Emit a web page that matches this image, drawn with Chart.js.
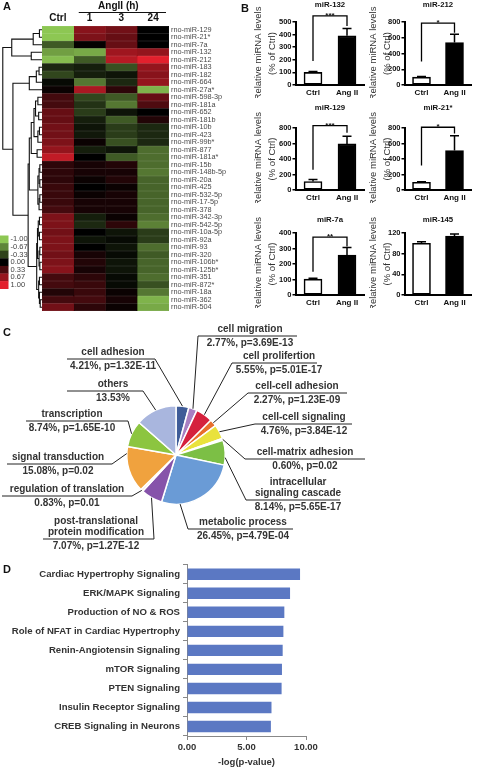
<!DOCTYPE html>
<html>
<head>
<meta charset="utf-8">
<script src="https://cdn.jsdelivr.net/npm/chart.js@4.4.0/dist/chart.umd.min.js"></script>
<style>
  body { margin: 0; background: #fff; }
  #fig { position: relative; width: 477px; height: 768px; overflow: hidden; background: #fff; }
  #fig canvas { position: absolute; }
  .panel { position: absolute; font: bold 11px "Liberation Sans", Arial, sans-serif; color: #111; }
</style>
</head>
<body>
<div id="fig">
  <canvas id="heat" width="240" height="318" style="left:0;top:0"></canvas>
  <canvas id="pie" width="477" height="238" style="left:0;top:318px"></canvas>
  <canvas id="paths" width="477" height="212" style="left:0;top:556px"></canvas>
  <div class="panel" style="left:3px;top:0px">A</div>
  <div class="panel" style="left:241px;top:2px">B</div>
  <div class="panel" style="left:3px;top:326px">C</div>
  <div class="panel" style="left:3px;top:563px">D</div>
</div>
<script>
const FONT = '"Liberation Sans", Arial, sans-serif';
Chart.defaults.font.family = FONT;

// ---- A: heatmap ----
const mirnas = ['rno-miR-129', 'rno-miR-21*', 'rno-miR-7a', 'rno-miR-132', 'rno-miR-212', 'rno-miR-183',
  'rno-miR-182', 'rno-miR-664', 'rno-miR-27a*', 'rno-miR-598-3p', 'rno-miR-181a', 'rno-miR-652',
  'rno-miR-181b', 'rno-miR-10b', 'rno-miR-423', 'rno-miR-99b*', 'rno-miR-877', 'rno-miR-181a*',
  'rno-miR-15b', 'rno-miR-148b-5p', 'rno-miR-20a', 'rno-miR-425', 'rno-miR-532-5p', 'rno-miR-17-5p',
  'rno-miR-378', 'rno-miR-342-3p', 'rno-miR-542-5p', 'rno-miR-10a-5p', 'rno-miR-92a', 'rno-miR-93',
  'rno-miR-320', 'rno-miR-106b*', 'rno-miR-125b*', 'rno-miR-351', 'rno-miR-872*', 'rno-miR-18a',
  'rno-miR-362', 'rno-miR-504'];
const heatColumns = ['Ctrl', '1', '3', '24'];
const ctrlVals = [-1, -1, -0.45, -0.8, -0.95, -0.2, -0.35, -0.05, 0.05, 0.3, 0.3, 0.45, 0.45, 0.5, 0.5, 0.55,
  0.65, 0.85, 0.2, 0.2, 0.2, 0.25, 0.25, 0.25, 0.3, 0.55, 0.55, 0.5, 0.55, 0.55, 0.5, 0.55, 0.6, 0.3, 0.3,
  0.15, 0.3, 0.5];
const h1Vals = [0.6, 0.55, 0.02, -0.85, -0.45, -0.15, -0.15, -0.6, 0.75, -0.35, -0.25, -0.3, -0.15, -0.1,
  -0.12, 0.05, -0.15, 0, 0.1, 0.1, 0.05, 0, 0.05, 0.1, 0.1, -0.15, -0.2, 0, -0.1, 0, 0.1, 0.15, 0.1, 0.2,
  0.25, 0.25, 0.3, 0.2];
const h3Vals = [0.5, 0.45, 0.45, 0.7, 0.8, -0.4, -0.1, -0.2, 0.2, -0.45, -0.6, -0.1, -0.45, -0.3, -0.3, -0.4,
  -0.1, -0.45, 0.15, 0.1, 0.15, 0.05, 0.1, 0.1, 0.1, 0.05, 0.2, -0.1, -0.05, -0.1, -0.05, -0.1, -0.1, -0.05,
  -0.05, 0.05, 0.1, 0.05];
const h24Vals = [0, 0, 0, 0.65, 1, 0.65, 0.6, 0.65, -0.9, 0.45, 0.35, 0, 0.15, -0.2, -0.2, -0.2, -0.55, -0.55,
  -0.55, -0.6, -0.5, -0.5, -0.5, -0.5, -0.5, -0.55, -0.65, -0.3, -0.3, -0.55, -0.45, -0.5, -0.5, -0.55, -0.4,
  -0.6, -0.9, -0.85];
const scaleStops = [-1, -0.67, -0.33, 0, 0.33, 0.67, 1];

// row clustering: [left, right, merge height], leaves are row indices
const topCluster = [[[0, 1, 0.04], 2, 0.2], [3, 4, 0.25], 0.75];
const midCluster = [[[5, 6, 0.05], 7, 0.12], 8, 0.3];
const lowA = [[[[9, 10, 0.08], [11, 12, 0.06], 0.14], [[13, 14, 0.04], 15, 0.08], 0.18], [16, 17, 0.1], 0.25];
const lowB = [[[18, 19, 0.03], [20, 21, 0.03], 0.05], [[22, 23, 0.03], 24, 0.05], 0.08];
const lowC = [[[25, 26, 0.04], [27, 28, 0.04], 0.07], [[29, 30, 0.03], [31, 32, 0.03], 0.05], 0.09];
const lowD = [[33, 34, 0.04], [35, [36, 37, 0.02], 0.04], 0.06];
const dendrogram = [topCluster, [midCluster, [[lowA, lowB, 0.3], [lowC, lowD, 0.11], 0.33], 0.72], 0.98];

// ---- B: qPCR bars ----
const bTitles = ['miR-132', 'miR-212', 'miR-129', 'miR-21*', 'miR-7a', 'miR-145'];
const groups = ['Ctrl', 'Ang II'];
const ctrlMeans = [100, 100, 110, 100, 102, 100];
const ctrlErrs = [8, 8, 25, 6, 6, 3];
const angMeans = [390, 540, 595, 510, 258, 114];
const angErrs = [58, 105, 100, 190, 48, 4];
const yMaxes = [500, 800, 800, 800, 400, 120];
const ySteps = [100, 200, 200, 200, 100, 40];
const sigLabels = ['***', '*', '***', '*', '**', ''];
// bracket: [ctrl leg bottom, top, ang leg bottom] in axis units
const sigBrackets = [[190, 548, 468], [300, 785, 665], [260, 830, 740], [315, 810, 730], [150, 374, 313], null];

// ---- C: GO pie ----
const pieNames = ['cell adhesion', 'cell migration', 'cell prolifertion', 'cell-cell adhesion',
  'cell-cell signaling', 'cell-matrix adhesion', 'intracellular\nsignaling cascade', 'metabolic process',
  'post-translational\nprotein modification', 'regulation of translation', 'signal transduction',
  'transcription', 'others'];
const pieShares = [4.21, 2.77, 5.55, 2.27, 4.76, 0.60, 8.14, 26.45, 7.07, 0.83, 15.08, 8.74, 13.53];
const piePvals = ['1.32E-11', '3.69E-13', '5.01E-17', '1.23E-09', '3.84E-12', '0.02', '5.65E-17', '4.79E-04',
  '1.27E-12', '0.01', '0.02', '1.65E-10', ''];

// ---- D: pathways ----
const pathways = ['Cardiac Hypertrophy Signaling', 'ERK/MAPK Signaling', 'Production of NO & ROS',
  'Role of NFAT in Cardiac Hypertrophy', 'Renin-Angiotensin Signaling', 'mTOR Signaling', 'PTEN Signaling',
  'Insulin Receptor Signaling', 'CREB Signaling in Neurons'];
const pathwayScores = [9.5, 8.66, 8.18, 8.1, 8.04, 7.98, 7.95, 7.1, 7.05];

// colours and label placement
const pieColors = ['#3f5c98', '#a87fc2', '#d5213d', '#e86e2c', '#e9e23c', '#f6f6f0', '#7cbf45', '#6a9bd6',
  '#8653aa', '#f7efe6', '#f0a23e', '#8cc540', '#a9b6de'];
const pieLayout = [
  { cx: 113, ruleY: 359, x0: 67, x1: 155, join: 'right' },
  { cx: 250, ruleY: 336, x0: 198, x1: 297, join: 'left' },
  { cx: 279, ruleY: 363, x0: 232, x1: 317, join: 'left' },
  { cx: 297, ruleY: 393, x0: 248, x1: 347, join: 'left' },
  { cx: 304, ruleY: 424, x0: 255, x1: 352, join: 'left' },
  { cx: 305, ruleY: 459, x0: 245, x1: 365, join: 'left' },
  { cx: 298, ruleY: 500, x0: 246, x1: 340, join: 'left', at: 0.7 },
  { cx: 243, ruleY: 529, x0: 188, x1: 293, join: 'left', at: 0.77 },
  { cx: 96, ruleY: 539, x0: 43, x1: 154, join: 'right' },
  { cx: 67, ruleY: 496, x0: 2, x1: 132, join: 'right' },
  { cx: 58, ruleY: 464, x0: 7, x1: 112, join: 'right', at: 0.85 },
  { cx: 72, ruleY: 421, x0: 26, x1: 128, join: 'right' },
  { cx: 113, ruleY: 391, x0: 67, x1: 143, join: 'right' }
];

function heatColor(v) {
  const t = Math.min(1, Math.abs(v));
  const c = v < 0 ? [141, 199, 83] : [227, 32, 45];
  return `rgb(${Math.round(c[0] * t)},${Math.round(c[1] * t)},${Math.round(c[2] * t)})`;
}

const heatExtras = {
  id: 'heatExtras',
  afterDraw(chart) {
    const { ctx, chartArea: area, scales: { x, y } } = chart;
    ctx.save();
    // dendrogram
    ctx.strokeStyle = '#111';
    ctx.lineWidth = 1.1;
    const xAt = h => area.left - 1 - h * (area.left - 3);
    const walk = node => {
      if (typeof node === 'number') return { x: area.left, y: y.getPixelForValue(node) };
      const a = walk(node[0]), b = walk(node[1]), px = xAt(node[2]);
      ctx.beginPath();
      ctx.moveTo(a.x, a.y); ctx.lineTo(px, a.y); ctx.lineTo(px, b.y); ctx.lineTo(b.x, b.y);
      ctx.stroke();
      return { x: px, y: (a.y + b.y) / 2 };
    };
    walk(dendrogram);

    // AngII header
    const l = x.getPixelForValue(1) + 5, r = x.getPixelForValue(4) - 3;
    ctx.fillStyle = '#111';
    ctx.font = 'bold 10px ' + FONT;
    ctx.textAlign = 'center';
    ctx.textBaseline = 'middle';
    ctx.fillText('AngII (h)', (l + r) / 2 - 4, 6);
    ctx.lineWidth = 1.2;
    ctx.beginPath(); ctx.moveTo(l, 12.5); ctx.lineTo(r, 12.5); ctx.stroke();

    // colour key
    const sw = 7.6, y0 = 235.5;
    ctx.font = '7.5px ' + FONT;
    ctx.textAlign = 'left';
    scaleStops.forEach((v, k) => {
      ctx.fillStyle = heatColor(v);
      ctx.fillRect(0, y0 + k * sw, 8.5, sw + 0.3);
      ctx.fillStyle = '#444';
      ctx.fillText(v.toFixed(2), 10.5, y0 + k * sw + sw / 2);
    });
    ctx.restore();
  }
};

const heatData = [ctrlVals, h1Vals, h3Vals, h24Vals];
new Chart(document.getElementById('heat'), {
  type: 'bar',
  data: {
    labels: mirnas,
    datasets: heatData.map((vals, c) => ({
      label: heatColumns[c],
      data: vals.map(() => [c, c + 1]),
      backgroundColor: vals.map(heatColor),
      borderColor: vals.map(heatColor),
      borderWidth: 0.5,
      borderSkipped: false,
      barPercentage: 1,
      categoryPercentage: 1,
      grouped: false
    }))
  },
  options: {
    indexAxis: 'y',
    responsive: false,
    animation: false,
    layout: { padding: { left: 42, top: 0, right: 0, bottom: 7 } },
    plugins: { legend: { display: false }, tooltip: { enabled: false } },
    scales: {
      x: {
        type: 'linear', position: 'top', min: 0, max: 4,
        grid: { display: false, drawTicks: false },
        border: { display: false },
        afterBuildTicks: s => { s.ticks = heatColumns.map((_, i) => ({ value: i + 0.5 })); },
        ticks: { callback: (v, i) => heatColumns[i], font: { size: 10, weight: 'bold' }, color: '#111', padding: 2 },
        afterFit: s => { s.height = 26; }
      },
      y: {
        position: 'right',
        grid: { display: false, drawTicks: false },
        border: { display: false },
        ticks: { font: { size: 7.3 }, color: '#4a4a4a', padding: 2, autoSkip: false },
        afterFit: s => { s.width = 71; }
      }
    }
  },
  plugins: [heatExtras]
});

// ---- B charts ----
const bCols = [{ left: 251, width: 116, axisW: 45, padR: 3 }, { left: 366, width: 111, axisW: 39, padR: 6 }];
const bRows = [{ top: 0, height: 98, padT: 22, titleY: 5 }, { top: 98, height: 105, padT: 30, titleY: 10 },
  { top: 203, height: 105, padT: 30, titleY: 17 }];

const bExtras = {
  id: 'bExtras',
  afterDraw(chart, args, opts) {
    const i = opts.index;
    const { ctx, scales: { y } } = chart;
    const bars = chart.getDatasetMeta(0).data;
    const means = [ctrlMeans[i], angMeans[i]], errs = [ctrlErrs[i], angErrs[i]];
    ctx.save();
    ctx.strokeStyle = '#000';
    ctx.fillStyle = '#111';
    ctx.lineWidth = 1.5;
    // error bars
    bars.forEach((b, k) => {
      const y1 = y.getPixelForValue(means[k]), y2 = y.getPixelForValue(means[k] + errs[k]);
      ctx.beginPath();
      ctx.moveTo(b.x, y1); ctx.lineTo(b.x, y2);
      ctx.moveTo(b.x - 4.5, y2); ctx.lineTo(b.x + 4.5, y2);
      ctx.stroke();
    });
    // title
    ctx.font = 'bold 7.8px ' + FONT;
    ctx.textAlign = 'center';
    ctx.textBaseline = 'middle';
    const mid = (bars[0].x + bars[1].x) / 2;
    ctx.fillText(bTitles[i], mid, opts.titleY);
    // significance
    const br = sigBrackets[i];
    if (br) {
      const yl = y.getPixelForValue(br[0]), yt = y.getPixelForValue(br[1]), yr = y.getPixelForValue(br[2]);
      ctx.lineWidth = 1.3;
      ctx.beginPath();
      ctx.moveTo(bars[0].x, yl); ctx.lineTo(bars[0].x, yt); ctx.lineTo(bars[1].x, yt); ctx.lineTo(bars[1].x, yr);
      ctx.stroke();
      ctx.font = 'bold 8px ' + FONT;
      ctx.textBaseline = 'alphabetic';
      ctx.fillText(sigLabels[i], mid, yt + 2);
    }
    ctx.restore();
  }
};

bTitles.forEach((title, i) => {
  const col = bCols[i % 2], row = bRows[Math.floor(i / 2)];
  const cv = document.createElement('canvas');
  cv.width = col.width;
  cv.height = row.height;
  cv.style.left = col.left + 'px';
  cv.style.top = row.top + 'px';
  document.getElementById('fig').appendChild(cv);
  new Chart(cv, {
    type: 'bar',
    data: {
      labels: groups,
      datasets: [{
        data: [ctrlMeans[i], angMeans[i]],
        backgroundColor: ['#fff', '#000'],
        borderColor: '#000',
        borderWidth: 1.6,
        borderSkipped: false,
        barThickness: 18
      }]
    },
    options: {
      responsive: false,
      animation: false,
      layout: { padding: { left: 0, top: row.padT, right: col.padR, bottom: 0 } },
      plugins: { legend: { display: false }, tooltip: { enabled: false }, bExtras: { index: i, titleY: row.titleY } },
      scales: {
        x: {
          grid: { display: false, drawTicks: false },
          border: { color: '#000', width: 2 },
          ticks: { font: { size: 8, weight: 'bold' }, color: '#111', padding: 3 },
          afterFit: s => { s.height = 13; }
        },
        y: {
          min: 0, max: yMaxes[i],
          ticks: { stepSize: ySteps[i], font: { size: 7.5, weight: 'bold' }, color: '#111', padding: 1 },
          grid: { drawOnChartArea: false, tickLength: 3.5, color: '#000', lineWidth: 1.5 },
          border: { color: '#000', width: 2 },
          title: {
            display: true, text: ['Relative miRNA levels', '(% of Ctrl)'],
            font: { size: 9.5, lineHeight: 1.5 }, color: '#333', padding: 0
          },
          afterFit: s => { s.width = col.axisW; }
        }
      }
    },
    plugins: [bExtras]
  });
});

// ---- C pie ----
const pieLabels = {
  id: 'pieLabels',
  afterDraw(chart) {
    const ctx = chart.ctx;
    const arcs = chart.getDatasetMeta(0).data;
    const off = chart.canvas.offsetTop;
    ctx.save();
    ctx.strokeStyle = '#222';
    ctx.lineWidth = 1;
    ctx.fillStyle = '#333';
    ctx.font = 'bold 10px ' + FONT;
    ctx.textAlign = 'center';
    ctx.textBaseline = 'middle';
    pieLayout.forEach((p, i) => {
      const arc = arcs[i];
      const a = arc.startAngle + (arc.endAngle - arc.startAngle) * (p.at ?? 0.5);
      const ex = arc.x + Math.cos(a) * arc.outerRadius, ey = arc.y + Math.sin(a) * arc.outerRadius;
      const ry = p.ruleY - off;
      const jx = p.join === 'left' ? p.x0 : p.x1;
      ctx.beginPath();
      ctx.moveTo(p.x0, ry); ctx.lineTo(p.x1, ry);
      ctx.moveTo(jx, ry); ctx.lineTo(ex, ey);
      ctx.stroke();
      const names = pieNames[i].split('\n');
      names.forEach((t, k) => ctx.fillText(t, p.cx, ry - 6.5 - (names.length - 1 - k) * 11.5));
      const stat = pieShares[i].toFixed(2) + '%' + (piePvals[i] ? ', p=' + piePvals[i] : '');
      ctx.fillText(stat, p.cx, ry + 7.5);
    });
    ctx.restore();
  }
};

new Chart(document.getElementById('pie'), {
  type: 'pie',
  data: {
    labels: pieNames,
    datasets: [{ data: pieShares, backgroundColor: pieColors, borderColor: '#fff', borderWidth: 1.5 }]
  },
  options: {
    responsive: false,
    animation: false,
    layout: { padding: { left: 126, right: 251, top: 87, bottom: 51 } },
    plugins: { legend: { display: false }, tooltip: { enabled: false } }
  },
  plugins: [pieLabels]
});

// ---- D pathways ----
new Chart(document.getElementById('paths'), {
  type: 'bar',
  data: {
    labels: pathways,
    datasets: [{ data: pathwayScores, backgroundColor: '#5b78c3', barPercentage: 0.6, categoryPercentage: 1 }]
  },
  options: {
    indexAxis: 'y',
    responsive: false,
    animation: false,
    layout: { padding: { left: 0, right: 171, top: 7.5, bottom: 0 } },
    plugins: { legend: { display: false }, tooltip: { enabled: false } },
    scales: {
      x: {
        min: 0, max: 10,
        ticks: { stepSize: 5, callback: v => v.toFixed(2), font: { size: 9.5, weight: 'bold' }, color: '#333', padding: 2 },
        grid: { drawOnChartArea: false, tickLength: 4, color: '#888' },
        border: { color: '#888' },
        title: { display: true, text: '-log(p-value)', font: { size: 9.5, weight: 'bold' }, color: '#333', padding: 0 },
        afterFit: s => { s.height = 32; }
      },
      y: {
        ticks: { font: { size: 9.6, weight: 'bold' }, color: '#333', padding: 3, autoSkip: false },
        grid: { offset: true, drawOnChartArea: false, tickLength: 4, color: '#888' },
        border: { color: '#888' },
        afterFit: s => { s.width = 187; }
      }
    }
  }
});
</script>
</body>
</html>
